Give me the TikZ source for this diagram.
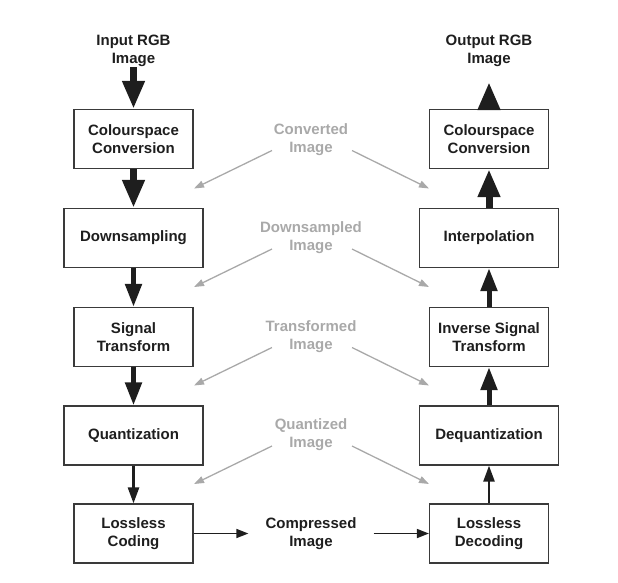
\documentclass[tikz,border=0pt]{standalone}
\usepackage{fontspec}
\setmainfont{Liberation Sans}
\usetikzlibrary{arrows.meta}
\definecolor{schrift}{HTML}{1E1E1E}
\definecolor{rahmen}{HTML}{3A3A3A}
\definecolor{grau}{HTML}{A9A9A9}
\begin{document}
\begin{tikzpicture}[x=1pt, y=-1pt,
	kasten/.style={draw=rahmen, line width=1.2pt, minimum width=119pt,
	minimum height=59pt, align=center, text=schrift,
	font=\bfseries\fontsize{15}{18}\selectfont},
	breit/.style={kasten, minimum width=139pt},
	etikett/.style={align=center, inner sep=0pt, text=schrift,
	font=\bfseries\fontsize{15}{18}\selectfont},
	hell/.style={etikett, text=grau},
	dick/.style={draw=schrift, line width=7pt, -{Triangle[length=28pt,width=21pt]}},
	mittel/.style={draw=schrift, line width=5pt, -{Triangle[length=23pt,width=16pt]}},
	duenn/.style={draw=schrift, line width=2.5pt, -{Triangle[length=16pt,width=11pt]}},
	fein/.style={draw=schrift, line width=1.6pt, -{Triangle[length=12pt,width=9pt]}},
	graupfeil/.style={draw=grau, line width=1.3pt, -{Triangle[length=10pt,width=7pt]}}]
	\useasboundingbox (0,0) rectangle (618,582);

	% linke Spalte
	\node[kasten] (farbeL) at (133.5,139) {Colourspace\\Conversion};
	\node[breit] (downs) at (133.5,238) {Downsampling};
	\node[kasten] (signal) at (133.5,337) {Signal\\Transform};
	\node[breit] (quant) at (133.5,435.5) {Quantization};
	\node[kasten] (codier) at (133.5,533.5) {Lossless\\Coding};
	% rechte Spalte
	\node[kasten] (farbeR) at (489,139) {Colourspace\\Conversion};
	\node[breit] (interp) at (489,238) {Interpolation};
	\node[kasten] (invsig) at (489,337) {Inverse Signal\\Transform};
	\node[breit] (dequant) at (489,435.5) {Dequantization};
	\node[kasten] (decodier) at (489,533.5) {Lossless\\Decoding};
	% Ein- und Ausgabe
	\node[etikett] (ein) at (133.5,51) {Input RGB\\Image};
	\node[etikett] (aus) at (489,51) {Output RGB\\Image};
	\node[etikett, inner xsep=17pt] (komp) at (311,533.5) {Compressed\\Image};

	% Pfeile
	\draw[dick] (ein) -- (farbeL);
	\draw[dick] (farbeL) -- (downs);
	\draw[mittel] (downs) -- (signal);
	\draw[mittel] (signal) -- (quant);
	\draw[duenn] (quant) -- (codier);
	\draw[fein] (codier) -- (komp);
	\draw[fein] (komp) -- (decodier);
	\draw[duenn] (decodier) -- (dequant);
	\draw[mittel] (dequant) -- (invsig);
	\draw[mittel] (invsig) -- (interp);
	\draw[dick] (interp) -- (farbeR);
	\draw[dick, shorten >=15pt] (farbeR) -- (aus);

	% graue Zwischenbilder
	\foreach \i/\bild in {1/Converted,2/Downsampled,3/Transformed,4/Quantized}{
		\pgfmathsetmacro{\y}{139.5+98.5*(\i-1)}
		\node[hell] (zwisch\i) at (311,\y) {\bild\\Image};
		\coordinate (zielL\i) at (194,\y+49);
		\coordinate (zielR\i) at (429,\y+49);
		\draw[graupfeil] ([shift={(-39,11)}]zwisch\i.center) -- (zielL\i);
		\draw[graupfeil] ([shift={(41,11)}]zwisch\i.center) -- (zielR\i);
	}
\end{tikzpicture}
\end{document}
